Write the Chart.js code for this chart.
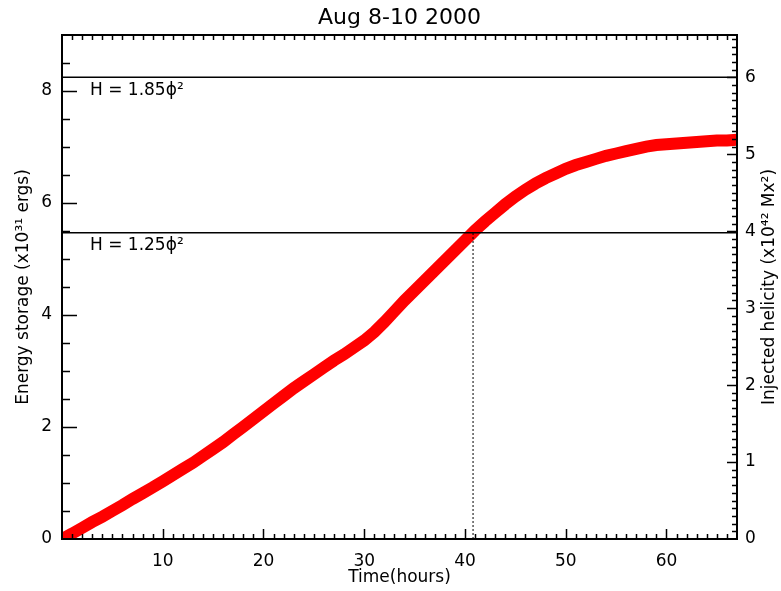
<!DOCTYPE html>
<html>
<head>
<meta charset="utf-8">
<script src="https://cdn.jsdelivr.net/npm/chart.js@4/dist/chart.umd.min.js"></script>
<style>
  html, body { margin: 0; padding: 0; background: #fff; }
  #wrap { width: 781px; height: 591px; }
</style>
</head>
<body>
<div id="wrap"><canvas id="helicity-chart"></canvas></div>
<script>
// time in hours and injected helicity (x10^42 Mx^2)
const hours = [0, 1, 2, 3, 4, 5, 6, 7, 8, 9, 10, 11, 12, 13, 14, 15, 16, 17, 18, 19,
    20, 21, 22, 23, 24, 25, 26, 27, 28, 29, 30, 31, 32, 33, 34, 35, 36, 37, 38, 39,
    40, 41, 42, 43, 44, 45, 46, 47, 48, 49, 50, 51, 52, 53, 54, 55, 56, 57, 58, 59,
    60, 61, 62, 63, 64, 65, 66, 67];
const helicity = [0.00, 0.07, 0.145, 0.22, 0.29, 0.365, 0.44, 0.52, 0.595, 0.67,
    0.75, 0.83, 0.91, 0.99, 1.08, 1.17, 1.26, 1.36, 1.46, 1.56,
    1.66, 1.76, 1.86, 1.96, 2.05, 2.14, 2.23, 2.32, 2.40, 2.49,
    2.58, 2.69, 2.82, 2.96, 3.10, 3.23, 3.36, 3.49, 3.62, 3.75,
    3.88, 4.01, 4.13, 4.24, 4.35, 4.45, 4.54, 4.62, 4.69, 4.75,
    4.81, 4.86, 4.90, 4.94, 4.98, 5.01, 5.04, 5.07, 5.10, 5.12,
    5.13, 5.14, 5.15, 5.16, 5.17, 5.18, 5.18, 5.19];

const xTicks = [10, 20, 30, 40, 50, 60];
const energyTicks = [0, 2, 4, 6, 8];
const helicityTicks = [0, 1, 2, 3, 4, 5, 6];

const thresholdLabels = ['H = 1.85ϕ²', 'H = 1.25ϕ²'];
const thresholdValues = [6.0, 3.98];
const crossingHour = 40.8;

const FONT = '"DejaVu Sans", sans-serif';
Chart.defaults.font.family = FONT;
Chart.defaults.color = '#000';

// frame, inward ticks, title, threshold labels and the right-hand axis title
const idlFrame = {
    id: 'idlFrame',
    afterDatasetsDraw(chart) {
        const ctx = chart.ctx;
        const area = chart.chartArea;
        const x = chart.scales.x, y = chart.scales.y, y2 = chart.scales.y2;
        ctx.save();
        ctx.strokeStyle = '#000';
        ctx.lineWidth = 1.5;
        ctx.beginPath();
        for (let h = 1; h < x.max; h++) {
            const px = Math.round(x.getPixelForValue(h)) + 0.5;
            const len = h % 10 === 0 ? 10 : 5;
            ctx.moveTo(px, area.bottom); ctx.lineTo(px, area.bottom - len);
            ctx.moveTo(px, area.top); ctx.lineTo(px, area.top + 5);
        }
        for (let k = 1; k < y.max * 2; k++) {
            const py = Math.round(y.getPixelForValue(k / 2)) + 0.5;
            const len = k % 4 === 0 ? 15 : 8;
            ctx.moveTo(area.left, py); ctx.lineTo(area.left + len, py);
        }
        for (let k = 1; k < y2.max * 10; k++) {
            const py = Math.round(y2.getPixelForValue(k / 10)) + 0.5;
            const len = k % 10 === 0 ? 10 : 5;
            ctx.moveTo(area.right, py); ctx.lineTo(area.right - len, py);
        }
        ctx.stroke();
        ctx.lineWidth = 2;
        ctx.strokeRect(area.left, area.top, area.right - area.left, area.bottom - area.top);

        ctx.fillStyle = '#000';
        ctx.textBaseline = 'middle';
        ctx.textAlign = 'center';
        ctx.font = '22px ' + FONT;
        ctx.fillText('Aug 8-10 2000', (area.left + area.right) / 2, 18);

        ctx.font = '17px ' + FONT;
        ctx.textAlign = 'left';
        thresholdLabels.forEach((txt, i) => {
            ctx.fillText(txt, area.left + 28, y2.getPixelForValue(thresholdValues[i]) + 13);
        });

        ctx.textAlign = 'center';
        ctx.translate(770, (area.top + area.bottom) / 2);
        ctx.rotate(-Math.PI / 2);
        ctx.fillText('Injected helicity (x10⁴² Mx²)', 0, 0);
        ctx.restore();
    }
};

const ctx = document.getElementById('helicity-chart').getContext('2d');
const helicityChart = new Chart(ctx, {
    type: 'line',
    data: {
        datasets: [
            {
                data: [{x: 0, y: thresholdValues[0]}, {x: 67, y: thresholdValues[0]}],
                yAxisID: 'y2',
                borderColor: '#000',
                borderWidth: 1.5,
                pointRadius: 0,
                order: 1
            },
            {
                data: [{x: 0, y: thresholdValues[1]}, {x: 67, y: thresholdValues[1]}],
                yAxisID: 'y2',
                borderColor: '#000',
                borderWidth: 1.5,
                pointRadius: 0,
                order: 1
            },
            {
                data: [{x: crossingHour, y: 0}, {x: crossingHour, y: thresholdValues[1]}],
                yAxisID: 'y2',
                borderColor: '#000',
                borderWidth: 1,
                borderDash: [2, 2],
                pointRadius: 0,
                order: 1
            },
            {
                data: hours.map((h, i) => ({x: h, y: helicity[i]})),
                yAxisID: 'y2',
                borderColor: '#ff0000',
                borderWidth: 12,
                borderCapStyle: 'square',
                pointRadius: 0,
                tension: 0,
                clip: 0,
                order: 2
            }
        ]
    },
    options: {
        responsive: true,
        maintainAspectRatio: false,
        animation: false,
        events: [],
        layout: { padding: { top: 35 } },
        plugins: {
            legend: { display: false },
            tooltip: { enabled: false },
            title: { display: false }
        },
        scales: {
            x: {
                type: 'linear',
                position: 'bottom',
                min: 0,
                max: 67,
                grid: { display: false, drawTicks: false },
                border: { display: false },
                afterBuildTicks: s => { s.ticks = xTicks.map(v => ({value: v})); },
                afterFit: s => { s.height = 52; },
                ticks: { font: { size: 17 }, padding: 12, maxRotation: 0, autoSkip: false },
                title: { display: true, text: 'Time(hours)', font: { size: 17 }, padding: { top: 0, bottom: 3 } }
            },
            y: {
                position: 'left',
                min: 0,
                max: 9,
                grid: { display: false, drawTicks: false },
                border: { display: false },
                afterBuildTicks: s => { s.ticks = energyTicks.map(v => ({value: v})); },
                afterFit: s => { s.width = 62; },
                ticks: { font: { size: 17 }, padding: 10 },
                title: { display: true, text: 'Energy storage (x10³¹ ergs)', font: { size: 17 }, padding: { top: 13, bottom: 0 } }
            },
            y2: {
                position: 'right',
                min: 0,
                max: 6.55,
                grid: { display: false, drawTicks: false },
                border: { display: false },
                afterBuildTicks: s => { s.ticks = helicityTicks.map(v => ({value: v})); },
                afterFit: s => { s.width = 44; },
                ticks: { font: { size: 17 }, padding: 8 }
            }
        }
    },
    plugins: [idlFrame]
});
</script>
</body>
</html>
